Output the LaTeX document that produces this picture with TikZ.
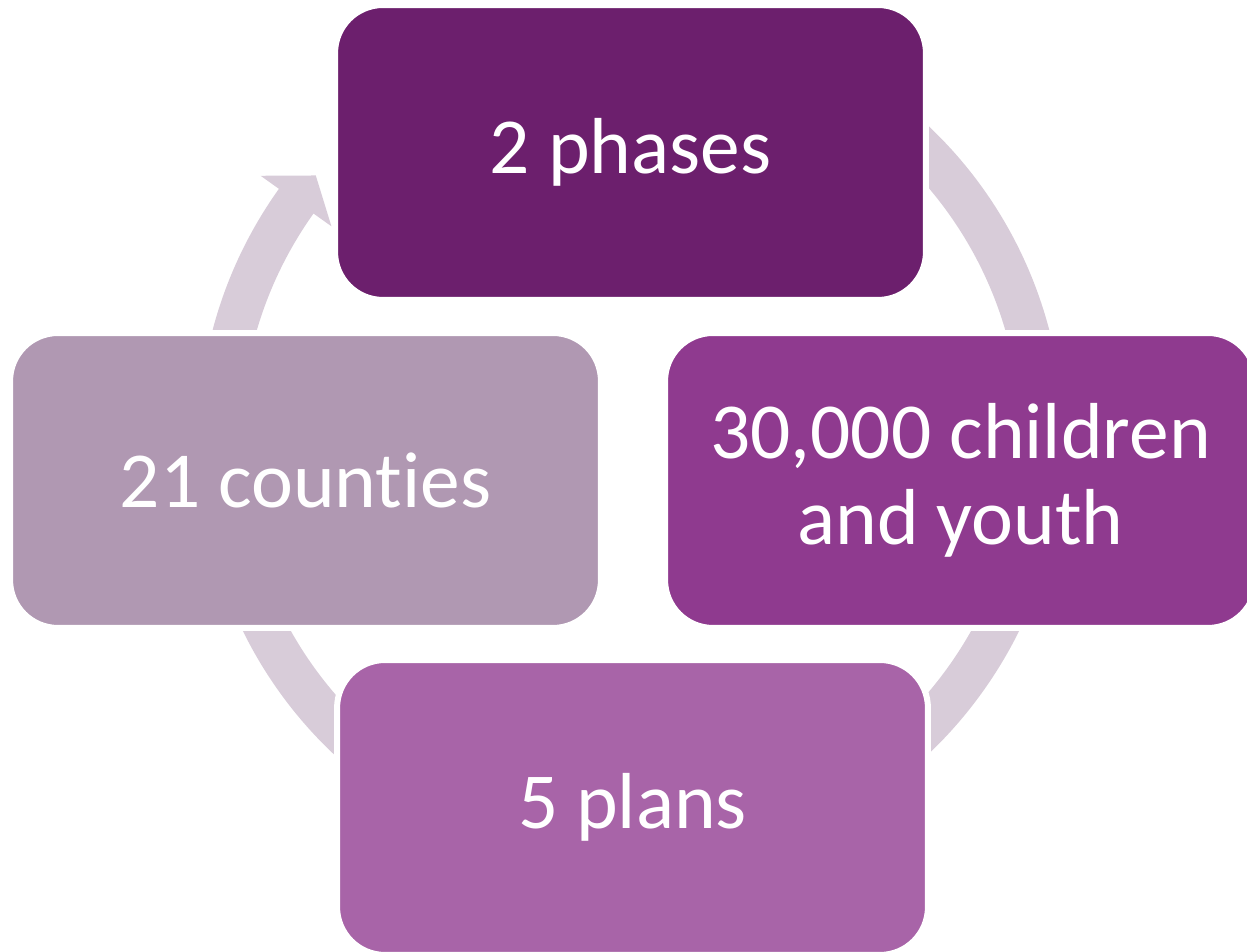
\documentclass[tikz,border=0pt]{standalone}
\usepackage{fontspec}
\setmainfont{Carlito}[Ligatures=NoCommon]
\definecolor{phasesfill}{HTML}{6C1F6D}
\definecolor{youthfill}{HTML}{8F3A8F}
\definecolor{plansfill}{HTML}{A864A8}
\definecolor{countiesfill}{HTML}{B098B2}
\definecolor{ringfill}{HTML}{D8CCD9}

\begin{document}
\begin{tikzpicture}[x=0.02cm, y=0.02cm,
  box/.style={draw=white, line width=0.12cm, rounded corners=0.96cm,
    minimum width=11.82cm, minimum height=5.9cm, text=white, align=center,
    font=\fontsize{45.2}{49.2}\selectfont}]
  \clip (0,0) rectangle (1247,952);
  \fill[ringfill, shift={(631,512)}] (144.5:432.5)
    arc[start angle=144.5, end angle=455, radius=432.5] -- (455:390)
    arc[start angle=455, end angle=144.5, radius=390] -- (144.5:368)
    -- (140:411.5) -- (144.5:455) -- cycle;
  \node[box, fill=phasesfill] (phases) at (630.5,799.5) {2 phases};
  \node[box, fill=youthfill] (youth) at (960.5,471.5) {30,000 children\\and youth};
  \node[box, fill=plansfill] (plans) at (632.5,144.5) {5 plans};
  \node[box, fill=countiesfill] (counties) at (305.5,471.5) {21 counties};
\end{tikzpicture}
\end{document}
